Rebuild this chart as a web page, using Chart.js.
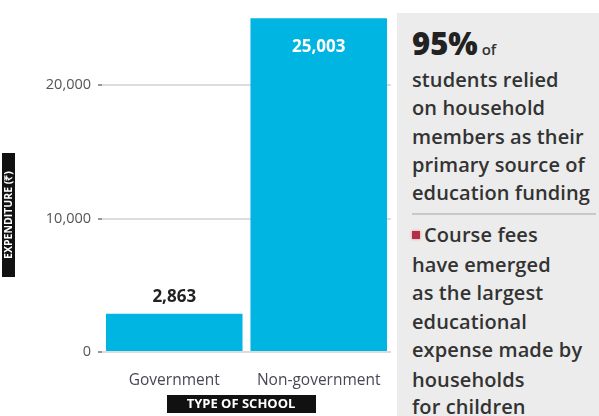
<!DOCTYPE html>
<html>
<head>
<meta charset="utf-8">
<script src="https://cdn.jsdelivr.net/npm/chart.js@4/dist/chart.umd.min.js"></script>
<style>
  html,body{margin:0;padding:0;background:#fff;}
  #wrap{position:relative;width:599px;height:416px;overflow:hidden;background:#fff;}
  #panel{position:absolute;left:397px;top:13px;width:202px;height:403px;background:#ececec;}
  .t{position:absolute;left:15px;font-family:"Open Sans",sans-serif;font-weight:600;font-size:20px;color:#333;white-space:nowrap;letter-spacing:0.1px;line-height:1;}
  .big{font-weight:800;font-size:31px;letter-spacing:0px;color:#222;}
  .sm{font-size:15px;font-weight:600;letter-spacing:0;}
  #sep{position:absolute;left:15px;top:200px;width:184px;height:2px;background:#c8c8c8;}
  .sq{display:inline-block;width:8px;height:8px;background:#b03045;margin-right:4px;vertical-align:3px;box-shadow:0 0 3px #f08090;}
  canvas{position:absolute;left:0;top:0;}
</style>
</head>
<body>
<div id="wrap">
  <div id="panel">
    <div class="t" style="top:15px"><span class="big">95%</span><span class="sm"> of</span></div>
    <div class="t" style="top:57px">students relied</div>
    <div class="t" style="top:85px">on household</div>
    <div class="t" style="top:114px">members as their</div>
    <div class="t" style="top:142px">primary source of</div>
    <div class="t" style="top:170px">education funding</div>
    <div id="sep"></div>
    <div class="t" style="top:212px"><span class="sq"></span>Course fees</div>
    <div class="t" style="top:242px">have emerged</div>
    <div class="t" style="top:270px">as the largest</div>
    <div class="t" style="top:299px">educational</div>
    <div class="t" style="top:327px">expense made by</div>
    <div class="t" style="top:357px">households</div>
    <div class="t" style="top:384px">for children</div>
  </div>
  <canvas id="c" width="599" height="416"></canvas>
</div>
<script>
const categories = ["Government", "Non-government"];
const expenditure = [2863, 25003];
const valueLabels = ["2,863", "25,003"];
const yTicks = [0, 10000, 20000];
const yTitle = "EXPENDITURE (₹)";
const xTitle = "TYPE OF SCHOOL";

const labelPlugin = {
  id: "labels",
  afterDatasetsDraw(chart) {
    const ctx = chart.ctx;
    const meta = chart.getDatasetMeta(0);
    ctx.save();
    ctx.textAlign = "center";
    ctx.textBaseline = "middle";
    ctx.font = "bold 17px 'Open Sans', sans-serif";
    meta.data.forEach((bar, i) => {
      const v = expenditure[i];
      if (v > 10000) {
        ctx.fillStyle = "#ffffff";
        ctx.fillText(valueLabels[i], bar.x, bar.y + 29);
      } else {
        ctx.fillStyle = "#222222";
        ctx.fillText(valueLabels[i], bar.x, bar.y - 17);
      }
    });
    ctx.restore();
  },
  afterDraw(chart) {
    const ctx = chart.ctx;
    ctx.save();
    const yc = 215;
    ctx.fillStyle = "#111";
    ctx.fillRect(2, 153, 13, 124);
    ctx.translate(9, yc);
    ctx.rotate(-Math.PI / 2);
    ctx.fillStyle = "#fff";
    ctx.font = "bold 10.5px 'Open Sans', sans-serif";
    ctx.textAlign = "center";
    ctx.textBaseline = "middle";
    ctx.fillText(yTitle, 0, 0.5);
    ctx.restore();
    ctx.save();
    const xc = 241;
    ctx.fillStyle = "#111";
    ctx.fillRect(167, 395, 149, 18);
    ctx.fillStyle = "#fff";
    ctx.font = "bold 13px 'Open Sans', sans-serif";
    ctx.textAlign = "center";
    ctx.textBaseline = "middle";
    ctx.fillText(xTitle, xc, 404.5);
    ctx.restore();
  }
};

new Chart(document.getElementById("c"), {
  type: "bar",
  data: {
    labels: categories,
    datasets: [{
      data: expenditure,
      backgroundColor: "#00b5e2",
      borderWidth: 0,
      barPercentage: 0.945,
      categoryPercentage: 1.0
    }]
  },
  options: {
    responsive: false,
    animation: false,
    devicePixelRatio: 1,
    layout: { padding: { left: 0, right: 208, top: 15, bottom: 0 } },
    plugins: { legend: { display: false }, tooltip: { enabled: false } },
    scales: {
      y: {
        min: 0,
        max: 25200,
        afterBuildTicks(scale) { scale.ticks = yTicks.map(v => ({ value: v })); },
        afterFit(scale) { scale.width = 102; },
        border: { display: false },
        grid: { color: "#dcdcdc", lineWidth: 2, drawTicks: true, tickLength: 4, tickColor: "#999" },
        ticks: {
          padding: 7,
          color: "#555",
          font: { family: "'Open Sans', sans-serif", size: 14.5 },
          callback: v => v.toLocaleString("en-US")
        }
      },
      x: {
        afterFit(scale) { scale.height = 64; },
        border: { display: false },
        grid: { display: false },
        ticks: {
          padding: 11,
          color: "#4a4656",
          font: { family: "'Open Sans', sans-serif", size: 15.5 }
        }
      }
    }
  },
  plugins: [labelPlugin]
});
</script>
</body>
</html>
